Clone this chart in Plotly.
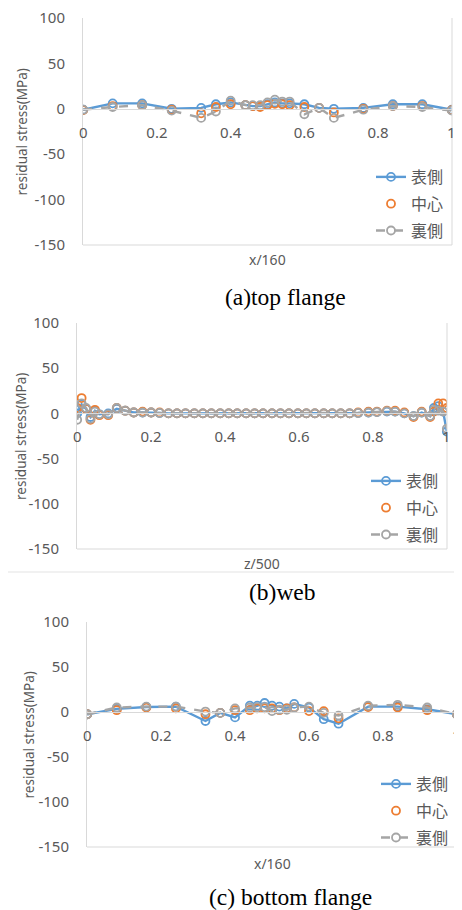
import plotly.graph_objects as go

# ---------------- data ----------------
x_flange = [0, 0.08, 0.16, 0.24, 0.32, 0.36, 0.40, 0.44, 0.46, 0.48, 0.50,
            0.52, 0.54, 0.56, 0.60, 0.64, 0.68, 0.76, 0.84, 0.92, 1.0]

top_surface = [-1, 6, 6, 0, 1, 5, 7, 4, 3, 3, 5, 7, 6, 6, 5, 1, 0, 1, 5, 5, -1]
top_center  = [-1.5, 3, 4, -1, -5, 2, 5, 4, 3, 2, 4, 5.5, 5, 4, 2, 1, -4, 0, 3, 3, -1.5]
top_back    = [-1, 2, 4, -2, -10, -3, 9, 4, 4, 4, 7, 10, 8, 8, -6, 1, -10, -1, 3, 2, -2]

z_web = [0, 0.012, 0.024, 0.036, 0.048, 0.06, 0.084, 0.107, 0.13, 0.153, 0.177,
         0.2, 0.223, 0.247, 0.27, 0.293, 0.317, 0.34, 0.363, 0.387, 0.41, 0.433,
         0.457, 0.48, 0.503, 0.527, 0.55, 0.573, 0.597, 0.62, 0.643, 0.667, 0.69,
         0.713, 0.737, 0.76, 0.788, 0.811, 0.838, 0.86, 0.885, 0.91, 0.932,
         0.955, 0.965, 0.977, 0.99, 1.0]
web_surface = [0, 10, 5, -4, 3, -1, 0, 5, 3, 1, 1, 1, 0.5, 0, 0, 0, 0, 0, 0, 0,
               0, 0, 0, 0, 0, 0, 0, 0, 0, 0, 0, 0, 0, 0, 0, 0.5, 1, 1.5, 2, 2,
               0, -3, 1, -3, 6, 8, 2, -20]
web_center  = [6, 17, 5, -7, 4, -2, -2, 6, 3, 1, 2, 1, 1, 0, 0, 0, 0, 0, 0, 0,
               0, 0, 0, 0, 0, 0, 0, 0, 0, 0, 0, 0, 0, 0, 0, 1, 2, 2, 3, 3,
               1, -4, 2, -4, 2, 11, 11, 6]
web_back    = [-7, 11, 6, -6, 2, -1, -1, 6, 3, 1, 1, 1, 0.5, 0, 0, 0, 0, 0, 0, 0,
               0, 0, 0, 0, 0, 0, 0, 0, 0, 0, 0, 0, 0, 0, 0, 0.5, 1, 1.5, 2.5, 2,
               0, -3, 1, -3, 4, 3, 2, -17]

bot_surface = [-2.5, 3.5, 5.5, 6, -10, -1, -6, 7, 7, 10, 7, 6, 4, 9, 5, -8, -13, 6, 6, 3, -2.5]
bot_center  = [-2.5, 2, 5, 4, -2.5, -1, 2, 2, 4, 4, 4, 2, 4, 5, 1, 1, -7, 5.5, 5, 2, -2.5]
bot_back    = [-2.5, 5, 6, 6, 0.5, -1, 4, 5, 5.5, 5.5, 1, 2.5, 2.5, 5, 6, -1, -4, 7, 8, 5, -2.5]

series_names = ["表側", "中心", "裏側"]
y_ticks = [100, 50, 0, -50, -100, -150]
y_tick_text = ["100", "50", "0", "-50", "-100", "-150"]
x_ticks = [0, 0.2, 0.4, 0.6, 0.8]
x_tick_text = ["0", "0.2", "0.4", "0.6", "0.8"]
x_end_tick = 1
x_end_text = "1"
x_titles = ["x/160", "z/500", "x/160"]
captions = ["(a)top flange", "(b)web", "(c) bottom flange"]

# ---------------- layout geometry ----------------
# the page body has an 8px margin; the figure starts 8px in
OFF = 8
W, H = 460, 902


def px(p):
    return (p - OFF) / W


def py(p):
    return 1 - (p - OFF) / H


# plot areas in page pixels: (x_left, x_right, y_top(100), y_bottom(-150))
areas = [(83, 452, 18, 245), (77, 447, 323, 549), (87, 457, 622, 847)]
title_x = [21, 21, 28]
xtitle_y = [259, 563, 863]
legend_top = [160, 464, 767]
legend_right = [449, 444, 454]
cap_y = [297, 592, 897]
cap_x = [285, 282, 290]

BLUE = "#5B9BD5"
ORANGE = "#ED7D31"
GRAY = "#A5A5A5"
TXT = "#595959"
FRAME = "#D9D9D9"
SANS = "Noto Sans, DejaVu Sans"
TICKFONT = dict(family=SANS, size=15, color=TXT)

fig = go.Figure()

panels = [
    (x_flange, top_surface, top_center, top_back),
    (z_web, web_surface, web_center, web_back),
    (x_flange, bot_surface, bot_center, bot_back),
]

layout_updates = {}
shapes = []
annotations = []

for i, (xs, s, c, b) in enumerate(panels):
    n = i + 1
    xa = "x" if n == 1 else f"x{n}"
    ya = "y" if n == 1 else f"y{n}"
    leg = "legend" if n == 1 else f"legend{n}"
    xl, xr, yt, yb = areas[i]
    xd = [px(xl), px(xr)]
    yd = [py(yb), py(yt)]
    ypos0 = yd[0] + (150 / 250) * (yd[1] - yd[0])

    mk = dict(symbol="circle-open", size=8, line=dict(width=1.8))
    fig.add_trace(go.Scatter(x=xs, y=s, name=series_names[0], mode="lines+markers",
                             line=dict(color=BLUE, width=2.4),
                             marker=dict(color=BLUE, **mk),
                             xaxis=xa, yaxis=ya, legend=leg, legendgroup=f"a{n}"))
    fig.add_trace(go.Scatter(x=xs, y=c, name=series_names[1], mode="markers",
                             marker=dict(color=ORANGE, **mk),
                             xaxis=xa, yaxis=ya, legend=leg, legendgroup=f"b{n}"))
    fig.add_trace(go.Scatter(x=xs, y=b, name=series_names[2], mode="lines+markers",
                             line=dict(color=GRAY, width=2.4, dash="dash"),
                             marker=dict(color=GRAY, **mk),
                             xaxis=xa, yaxis=ya, legend=leg, legendgroup=f"c{n}"))

    xkey = "xaxis" if n == 1 else f"xaxis{n}"
    ykey = "yaxis" if n == 1 else f"yaxis{n}"
    layout_updates[xkey] = dict(
        domain=xd, range=[-0.0005, 1.0005], anchor="free", position=ypos0,
        tickvals=x_ticks, ticktext=x_tick_text, tickfont=TICKFONT,
        showgrid=False, zeroline=False, showline=True, linecolor=FRAME, linewidth=1,
        ticks="", ticklabelstandoff=10, automargin=False, ticklabeloverflow="allow",
    )
    layout_updates[ykey] = dict(
        domain=yd, range=[-150, 100], anchor=xa,
        tickvals=y_ticks, ticktext=y_tick_text, tickfont=TICKFONT,
        showgrid=False, zeroline=False,
        showline=True, linecolor=FRAME, linewidth=1, ticks="", ticklabelstandoff=14,
        automargin=False, ticklabeloverflow="allow",
    )
    # end tick label "1" placed through the axis scale (plotly drops it at the edge)
    annotations.append(dict(text=x_end_text, xref=xa, yref=ya, x=x_end_tick, y=0,
                            yshift=-23, showarrow=False, xanchor="center", yanchor="middle",
                            font=TICKFONT))
    # plot area border bottom/right
    shapes.append(dict(type="line", xref=f"{xa} domain", yref=f"{ya} domain",
                       x0=0, x1=1, y0=0, y1=0, line=dict(color=FRAME, width=1)))
    shapes.append(dict(type="line", xref=f"{xa} domain", yref=f"{ya} domain",
                       x0=1, x1=1, y0=0, y1=1, line=dict(color=FRAME, width=1)))

    # legend
    layout_updates[leg] = dict(
        x=px(legend_right[i]), xanchor="right", y=py(legend_top[i]), yanchor="top",
        bgcolor="rgba(0,0,0,0)", font=dict(family="Noto Sans CJK JP", size=16, color=TXT),
        tracegroupgap=3, itemwidth=30, traceorder="grouped",
    )
    # y title
    annotations.append(dict(text="residual stress(MPa)", xref="paper", yref="paper",
                            x=px(title_x[i]), y=py((yt + yb) / 2 + 1), textangle=-90,
                            showarrow=False, xanchor="center", yanchor="middle",
                            font=dict(family=SANS, size=13.5, color=TXT)))
    # x title
    annotations.append(dict(text=x_titles[i], xref="paper", yref="paper",
                            x=px((xl + xr) / 2), y=py(xtitle_y[i]), showarrow=False,
                            font=dict(family=SANS, size=14, color=TXT),
                            xanchor="center", yanchor="middle"))

# faint chart-area frame visible around the web chart
shapes.append(dict(type="line", xref="paper", yref="paper",
                   x0=px(6), x1=px(6), y0=py(450), y1=py(572),
                   line=dict(color="#E3E3E3", width=1)))
shapes.append(dict(type="line", xref="paper", yref="paper",
                   x0=px(6), x1=px(458), y0=py(572), y1=py(572),
                   line=dict(color="#E3E3E3", width=1)))

for i in range(3):
    annotations.append(dict(text=captions[i], xref="paper", yref="paper",
                            x=px(cap_x[i]), y=py(cap_y[i]), showarrow=False,
                            font=dict(family="Liberation Serif, Times New Roman, serif", size=23.5, color="#000000"),
                            xanchor="center", yanchor="middle"))

fig.update_layout(
    width=W, height=H, margin=dict(l=0, r=0, t=0, b=0),
    paper_bgcolor="white", plot_bgcolor="white",
    showlegend=True, shapes=shapes, annotations=annotations,
    **layout_updates,
)

fig.write_html("out.html")
